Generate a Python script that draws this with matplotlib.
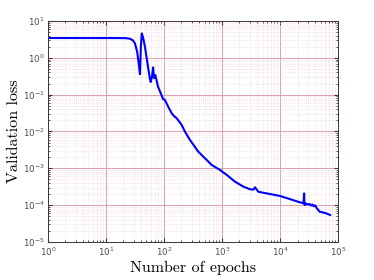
import matplotlib
matplotlib.use("Agg")
import matplotlib.pyplot as plt
from matplotlib.ticker import LogLocator, NullFormatter

# validation loss vs. epoch
epochs = [1, 5, 15, 22, 26, 29, 31.6, 34.5, 37, 38.6, 40, 41.5, 44, 47, 51.5,
          57, 59, 62, 65, 67.5, 71, 79, 97, 104, 120, 136, 150, 166, 202, 230,
          281, 390, 509, 664, 924, 1205, 1675, 2330, 3040, 3466, 3707, 4227,
          5900, 10000, 14870, 20000, 22000, 25300, 26000, 26300, 26600, 28000,
          30000, 32000, 34000, 36000, 38000, 40000, 43000, 48000, 60000, 72800]
loss = [3.45, 3.45, 3.44, 3.42, 3.3, 3.0, 2.48, 1.47, 0.64, 0.36, 2.0, 4.6, 3.4,
        2.0, 0.785, 0.278, 0.22, 0.3, 0.55, 0.28, 0.34, 0.165, 0.075, 0.0716,
        0.045, 0.0312, 0.026, 0.0228, 0.015, 0.00986, 0.00587, 0.00283, 0.00187,
        0.00123, 0.0009, 0.00066, 0.000433, 0.000317, 0.000269, 0.000262,
        0.000305, 0.00023, 0.000208, 0.000177, 0.000145, 0.000125, 0.000119,
        0.000112, 0.000208, 0.000106, 0.000101, 0.000111, 0.000103, 0.000108,
        0.000097, 0.000104, 0.000093, 0.000099, 0.000082, 0.0000664, 0.000061,
        0.000054]

xticks = [1e0, 1e1, 1e2, 1e3, 1e4, 1e5]
yticks = [1e-5, 1e-4, 1e-3, 1e-2, 1e-1, 1e0, 1e1]

fig = plt.figure(figsize=(3.74, 2.80), dpi=100)
ax = fig.add_axes([0.128, 0.136, 0.776, 0.789])

ax.plot(epochs, loss, color="blue", linewidth=1.5)

ax.set_xscale("log")
ax.set_yscale("log")
ax.set_xlim(1, 1e5)
ax.set_ylim(1e-5, 1e1)
ax.set_xticks(xticks)
ax.set_yticks(yticks)
ax.xaxis.set_minor_locator(LogLocator(base=10, subs=range(2, 10), numticks=20))
ax.yaxis.set_minor_locator(LogLocator(base=10, subs=range(2, 10), numticks=20))
ax.xaxis.set_minor_formatter(NullFormatter())
ax.yaxis.set_minor_formatter(NullFormatter())

ax.grid(True, which="major", color=(0.88, 0.62, 0.68), linewidth=0.7)
ax.grid(True, which="minor", color=(0.93, 0.80, 0.84), linewidth=0.5, linestyle=":")
ax.set_axisbelow(True)

for s in ax.spines.values():
    s.set_color((0.25, 0.2, 0.2))
    s.set_linewidth(0.7)
ax.tick_params(which="both", direction="in", top=True, right=True,
               colors=(0.25, 0.2, 0.2), labelcolor=(0.3, 0.3, 0.3))
ax.tick_params(which="major", length=3, labelsize=6.3, pad=2.5)
ax.tick_params(which="minor", length=1.5)

ax.set_xlabel("Number of epochs", fontfamily="cmr10", fontsize=11.5, va="center")
ax.set_ylabel("Validation loss", fontfamily="cmr10", fontsize=11.5, va="center")
ax.xaxis.set_label_coords(0.5, -0.118)
ax.yaxis.set_label_coords(-0.117, 0.5)

fig.savefig("out.png", dpi=100)
